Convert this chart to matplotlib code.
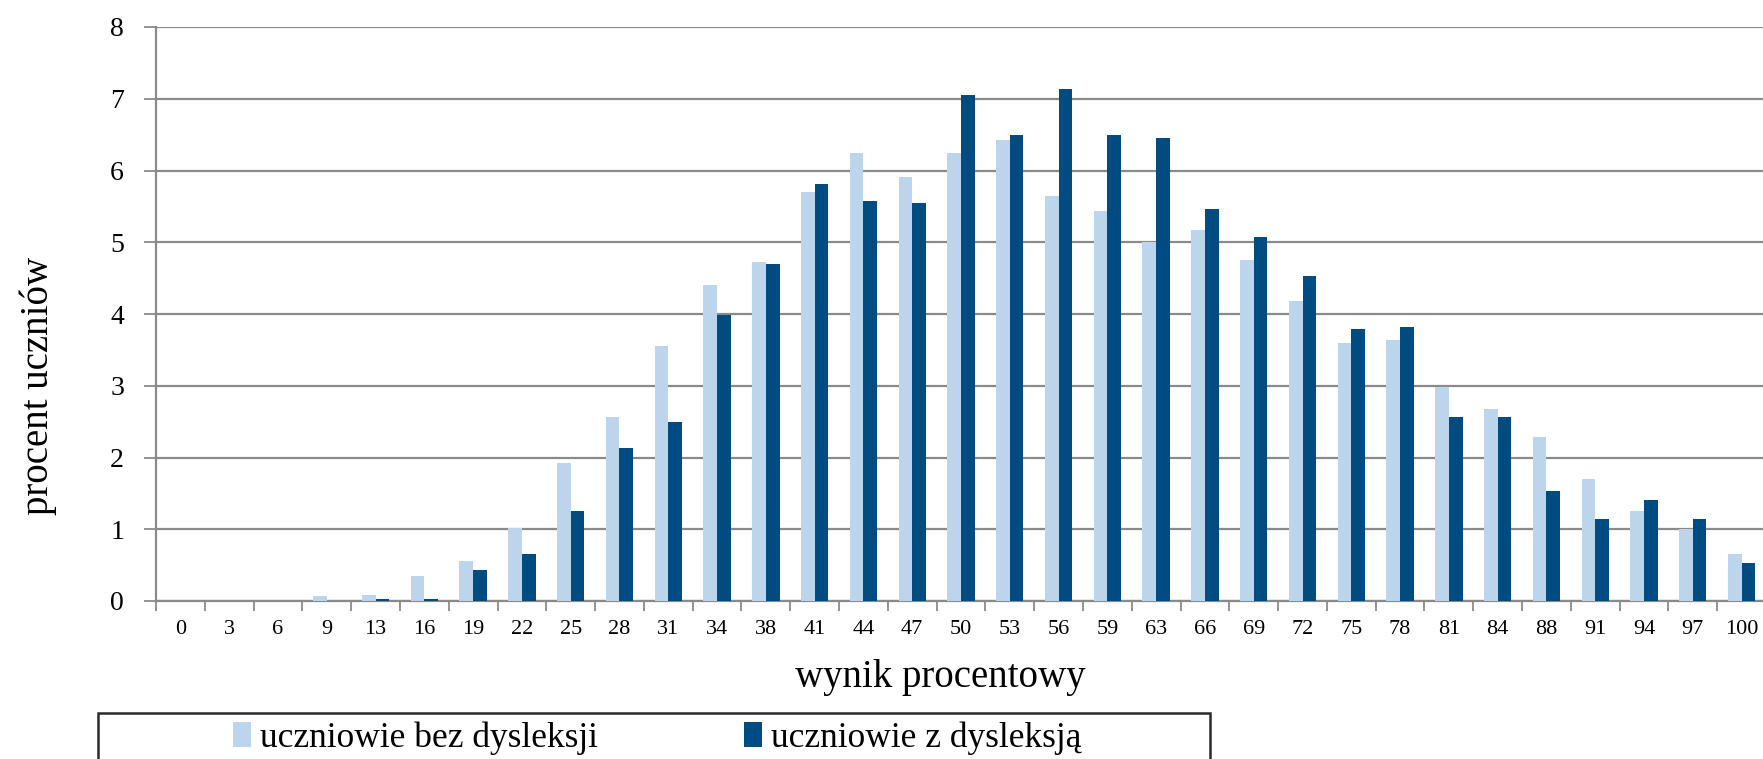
import numpy as np
import matplotlib
matplotlib.use("Agg")
import matplotlib.pyplot as plt
from matplotlib.patches import Rectangle

# ── DATA ──────────────────────────────────────────────────────────────────────
scores = ["0", "3", "6", "9", "13", "16", "19", "22", "25", "28", "31", "34",
          "38", "41", "44", "47", "50", "53", "56", "59", "63", "66", "69",
          "72", "75", "78", "81", "84", "88", "91", "94", "97", "100"]

# procent uczniów bez dysleksji
bez_dysleksji = [0.0, 0.0, 0.0, 0.07, 0.09, 0.35, 0.56, 1.02, 1.93, 2.57, 3.55,
                 4.40, 4.72, 5.70, 6.24, 5.91, 6.25, 6.42, 5.64, 5.44, 5.00,
                 5.17, 4.75, 4.18, 3.60, 3.64, 2.98, 2.68, 2.29, 1.70, 1.25,
                 1.00, 0.66]

# procent uczniów z dysleksją
z_dysleksja = [0.0, 0.0, 0.0, 0.0, 0.03, 0.03, 0.43, 0.66, 1.25, 2.13, 2.49,
               3.99, 4.69, 5.81, 5.57, 5.55, 7.05, 6.49, 7.14, 6.49, 6.45,
               5.46, 5.07, 4.53, 3.79, 3.82, 2.57, 2.57, 1.54, 1.14, 1.41,
               1.14, 0.53]

series_labels = ["uczniowie bez dysleksji", "uczniowie z dysleksją"]
LIGHT = "#bdd5ec"
DARK = "#004b7f"
GRID = "#8a8a8a"

plt.rcParams["font.family"] = ["Liberation Serif", "DejaVu Serif"]

W, H = 1763, 759
fig = plt.figure(figsize=(W / 100, H / 100), dpi=100)

# axes placed in pixel terms, right edge runs slightly past the picture
left, right, bottom, top = 156, 1766, 601, 27
ax = fig.add_axes([left / W, 1 - bottom / H, (right - left) / W, (bottom - top) / H])

x = np.arange(len(scores))
bw = 0.28
b1 = ax.bar(x - bw / 2, bez_dysleksji, bw, color=LIGHT, zorder=3)
b2 = ax.bar(x + bw / 2, z_dysleksja, bw, color=DARK, zorder=3)

ax.set_xlim(-0.5, len(scores) - 0.5)
ax.set_ylim(0, 8)
ax.set_yticks(range(0, 9))
ax.yaxis.grid(True, color=GRID, linewidth=1.6, zorder=0)
ax.set_axisbelow(True)

# category labels in the middle, tick marks on the boundaries
ax.set_xticks(x)
ax.set_xticklabels(scores, fontsize=16)
ax.set_xticks(np.arange(-0.5, len(scores), 1), minor=True)
ax.tick_params(axis="x", which="major", length=0, pad=14)
ax.tick_params(axis="x", which="minor", length=7, width=1.3, color=GRID)
ax.tick_params(axis="y", length=9, width=1.3, color=GRID, labelsize=20, pad=14)

for s in ["top", "right"]:
    ax.spines[s].set_visible(False)
for s in ["left", "bottom"]:
    ax.spines[s].set_color(GRID)
    ax.spines[s].set_linewidth(1.6)

fig.text(940 / W, 1 - 678 / H, "wynik procentowy", fontsize=28,
         ha="center", va="center")
fig.text(38 / W, 1 - 386 / H, "procent uczniów", fontsize=28,
         rotation=90, ha="center", va="center")

# legend box (bottom is cut off by the picture edge)
fig.patches.append(Rectangle((98 / W, 1 - 775 / H), (1210 - 98) / W, (775 - 713) / H,
                             transform=fig.transFigure, fill=False,
                             edgecolor="#2a2a2a", linewidth=1.8))

for handle, label, xpos in [(b1, series_labels[0], 233), (b2, series_labels[1], 744)]:
    fig.legend([handle], [label], loc="center left",
               bbox_to_anchor=(xpos / W, 1 - 738 / H), frameon=False,
               fontsize=25.5, borderpad=0, borderaxespad=0,
               handlelength=0.5, handleheight=0.7, handletextpad=0.25)

plt.savefig("out.png", dpi=100)
plt.close()
